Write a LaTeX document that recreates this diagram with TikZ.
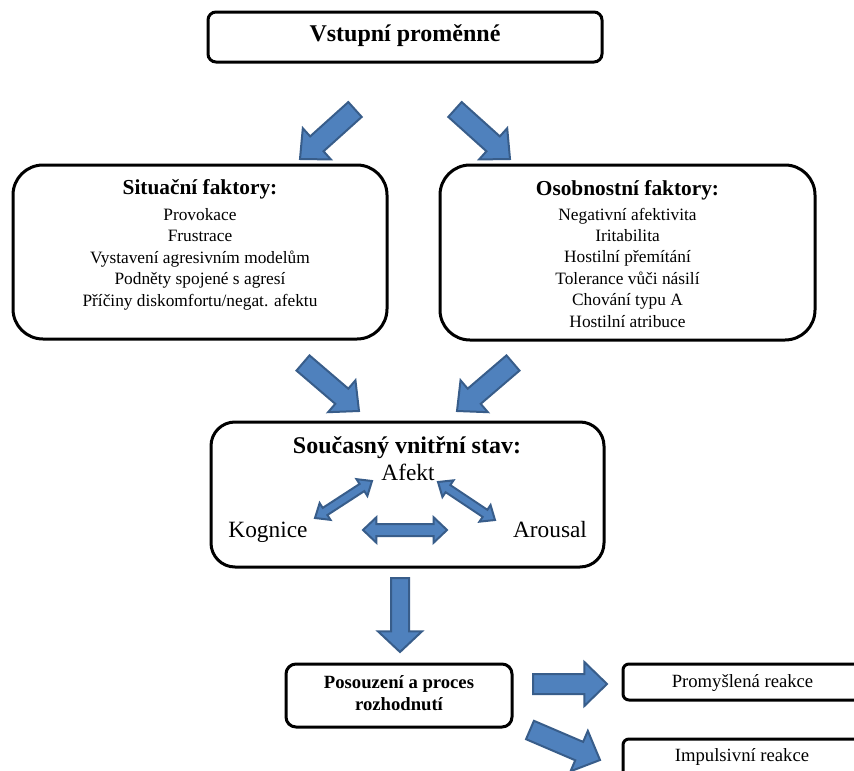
\documentclass[tikz,border=0pt]{standalone}
\usepackage{fontspec}
\setmainfont{Liberation Serif}
\usetikzlibrary{calc,fit}
\definecolor{arrfill}{HTML}{4F81BD}
\definecolor{arrline}{HTML}{385D8A}
\tikzset{
  bx/.style={draw=black, line width=2.25pt, fill=white, inner sep=0pt},
  blockarrow/.style={draw=arrline, fill=arrfill, line width=1.5pt},
  txt/.style={inner sep=0pt, anchor=base, align=center},
  fbig/.style={font=\fontsize{18}{21}\selectfont\bfseries},
  ftitle/.style={font=\fontsize{16}{19}\selectfont\bfseries},
  fbody/.style={font=\fontsize{13}{16.05}\selectfont},
  fmid/.style={font=\fontsize{17.5}{20}\selectfont},
  fdec/.style={font=\fontsize{14}{16.5}\selectfont\bfseries},
  freac/.style={font=\fontsize{14}{16.5}\selectfont}
}
\newcommand\blockarr[5]{%
  \coordinate (hb) at ($(#2)!#5!(#1)$);
  \draw[blockarrow] ($(#1)!#3!90:(#2)$) -- ($(hb)!#3!90:(#2)$) -- ($(hb)!#4!90:(#2)$) -- (#2) -- ($(hb)!#4!-90:(#2)$) -- ($(hb)!#3!-90:(#2)$) -- ($(#1)!#3!-90:(#2)$) -- cycle;
}
\newcommand\dblockarr[5]{%
  \coordinate (ha) at ($(#1)!#5!(#2)$);
  \coordinate (hb) at ($(#2)!#5!(#1)$);
  \draw[blockarrow] (#1) -- ($(ha)!#4!90:(#2)$) -- ($(ha)!#3!90:(#2)$) -- ($(hb)!#3!90:(#2)$) -- ($(hb)!#4!90:(#2)$) -- (#2) -- ($(hb)!#4!-90:(#2)$) -- ($(hb)!#3!-90:(#2)$) -- ($(ha)!#3!-90:(#2)$) -- ($(ha)!#4!-90:(#2)$) -- cycle;
}
\begin{document}
\begin{tikzpicture}[x=0.75pt,y=-0.75pt]
\useasboundingbox (0,0) rectangle (854,771);
\clip (0,0) rectangle (854,771);
\fill[white] (0,0) rectangle (854,771);

% boxes
\node[bx, rounded corners=6pt, fit={(208,12) (602,62)}] (vstup) {};
\node[bx, rounded corners=22.5pt, fit={(13,165) (387,339)}] (situ) {};
\node[bx, rounded corners=22.5pt, fit={(440,165) (815,340)}] (osob) {};
\node[bx, rounded corners=18pt, fit={(211,422) (604,567)}] (soucas) {};
\node[bx, rounded corners=7.5pt, fit={(286,664) (512,727)}] (posouz) {};
\node[bx, rounded corners=4.5pt, fit={(623,664) (864,700)}] (promysl) {};
\node[bx, rounded corners=4.5pt, fit={(623,739) (864,790)}] (impuls) {};

% texts (anchor=base of a multi-line node is the baseline of its last line)
\node[txt, fbig] (tvstup) at (405,41) {Vstupní proměnné};
\node[txt, ftitle] (tsitu) at (200,194) {Situační faktory:};
\node[txt, fbody] (bsitu) at (200,306) {Provokace\\Frustrace\\Vystavení agresivním modelům\\Podněty spojené s agresí\\Příčiny diskomfortu/negat. afektu};
\node[txt, ftitle] (tosob) at (627.5,195) {Osobnostní faktory:};
\node[txt, fbody] (bosob) at (627.5,327) {Negativní afektivita\\Iritabilita\\Hostilní přemítání\\Tolerance vůči násilí\\Chování typu A\\Hostilní atribuce};
\node[txt, fbig] (tsoucas) at (407,453) {Současný vnitřní stav:};
\node[txt, fmid] (afekt) at (408,480) {Afekt};
\node[txt, fmid] (kognice) at (268,537) {Kognice};
\node[txt, fmid] (arousal) at (550,537) {Arousal};
\node[txt, fdec] (tposouz) at (399,710) {Posouzení a proces\\rozhodnutí};
\node[txt, freac] (tpromysl) at (742.5,687) {Promyšlená reakce};
\node[txt, freac] (timpuls) at (742,761) {Impulsivní reakce};

% arrow end points
\coordinate (a1s) at (355,109.5); \coordinate (a1e) at (300,159);
\coordinate (a2s) at (455,109.5); \coordinate (a2e) at (510,159);
\coordinate (a3s) at (303,363);   \coordinate (a3e) at (359,411);
\coordinate (a4s) at (513,363);   \coordinate (a4e) at (457,411);
\coordinate (a5s) at (400,578);   \coordinate (a5e) at (400,652);
\coordinate (a6s) at (533,684);   \coordinate (a6e) at (607,684);
\coordinate (a7s) at (530,730);   \coordinate (a7e) at (600,760);
\coordinate (d1s) at (315,518);   \coordinate (d1e) at (372,481);
\coordinate (d2s) at (438,482);   \coordinate (d2e) at (495,520);
\coordinate (d3s) at (363,530);   \coordinate (d3e) at (447,530);

\blockarr{a1s}{a1e}{7.5pt}{15.75pt}{17pt}
\blockarr{a2s}{a2e}{7.5pt}{15.75pt}{17pt}
\blockarr{a3s}{a3e}{7.5pt}{15.75pt}{17pt}
\blockarr{a4s}{a4e}{7.5pt}{15.75pt}{17pt}
\blockarr{a5s}{a5e}{6.75pt}{16.5pt}{15.5pt}
\blockarr{a6s}{a6e}{7.5pt}{16.5pt}{17pt}
\blockarr{a7s}{a7e}{7.5pt}{16.5pt}{17pt}
\dblockarr{d1s}{d1e}{3.2pt}{7.5pt}{9pt}
\dblockarr{d2s}{d2e}{3.2pt}{7.5pt}{9pt}
\dblockarr{d3s}{d3e}{4.5pt}{9.5pt}{10pt}
\end{tikzpicture}
\end{document}
